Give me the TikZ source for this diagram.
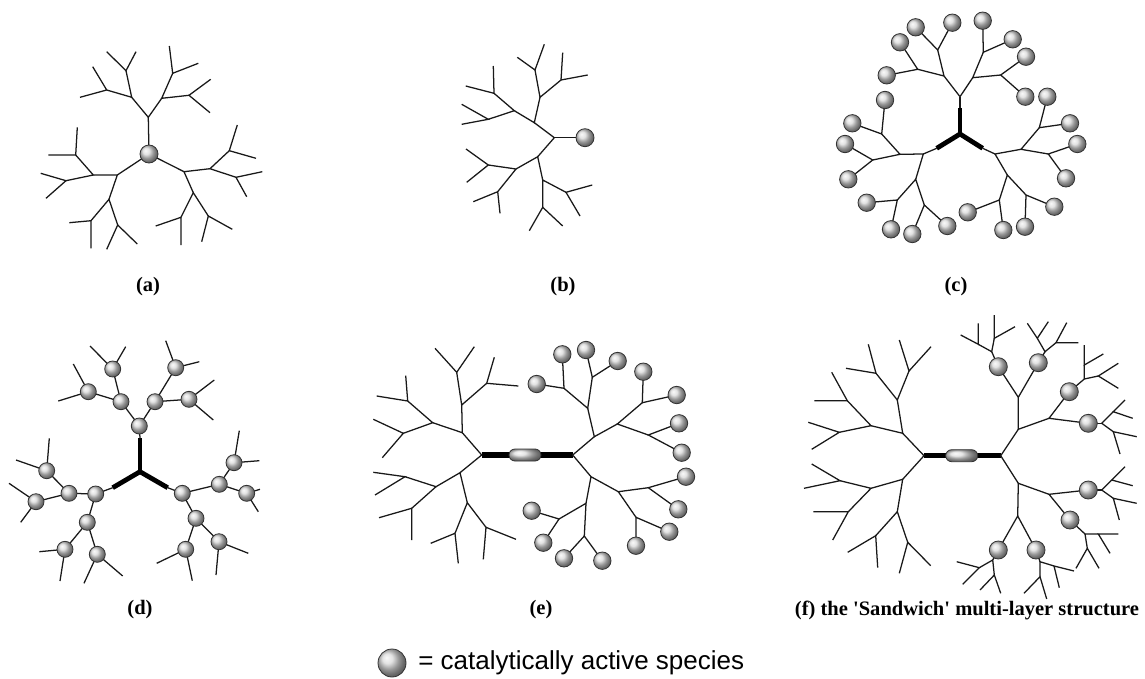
\documentclass[tikz,border=0pt]{standalone}
\usepackage{fontspec}
\setmainfont{Liberation Serif}
\newfontfamily\legendfont{Liberation Sans}
\tikzset{
  bond/.style={line width=0.95pt, black!90},
  arm/.style={line width=3.6pt, black, line cap=butt},
  bar/.style={line width=3.8pt, black, line cap=butt},
  sphere/.style={shading=ball, ball color=gray!30, draw=black!80, line width=0.6pt},
  capsule/.style={shading=ball, ball color=gray!28, draw=black!80, line width=0.6pt},
  lab/.style={font=\fontsize{15.4}{18}\selectfont\bfseries, inner sep=0pt},
}
% fork: branch point #1 with two arms ending at #2 and #3
\newcommand\fk[3]{\draw[bond] (#2) -- (#1) -- (#3);}
\newcommand\seg[2]{\draw[bond] (#1) -- (#2);}
\newcommand\sph[2]{\shadedraw[sphere] (#1) circle[radius=#2*0.75pt];}
\begin{document}
\begin{tikzpicture}[x=0.75pt,y=-0.75pt]
\fill[white] (0,0) rectangle (1145,678);
\useasboundingbox (0,0) rectangle (1145,678);

% ---------- (a) sphere core with three dendrons ----------
\seg{149,154}{148.3,117.3}
\fk{148.3,117.3}{131.7,97.3}{161.7,98.3}
\fk{131.7,97.3}{126,70.7}{106.7,90}
\fk{126,70.7}{106.7,51.7}{136,51.7}
\fk{106.7,90}{92.7,66.7}{80,97.3}
\fk{161.7,98.3}{172.7,73.3}{189,95.3}
\fk{172.7,73.3}{169.3,46}{198.3,63.3}
\fk{189,95.3}{210.7,79.3}{210,112.7}
\seg{149,154}{117.3,175}
\fk{117.3,175}{93.3,175}{109,199.3}
\fk{93.3,175}{75.7,155}{66,180.7}
\fk{75.7,155}{77.3,127.3}{48.3,155}
\fk{66,180.7}{40.7,173.3}{46,198.3}
\fk{109,199.3}{91,220.7}{117.7,225}
\fk{91,220.7}{69.3,222.7}{91,248.3}
\fk{117.7,225}{106.7,249.3}{137.3,244}
\seg{149,154}{184,171.7}
\fk{184,171.7}{210,168.7}{193.3,192.7}
\fk{210,168.7}{229.3,150.7}{236,177.3}
\fk{229.3,150.7}{237.3,125}{256,158.3}
\fk{236,177.3}{262.3,171.7}{246.7,196.7}
\fk{193.3,192.7}{181,217.3}{208.3,216}
\fk{181,217.3}{155.7,226}{181,245}
\fk{208.3,216}{201.7,241.7}{232.3,229.3}
\sph{149,154}{9}

% ---------- (b) single dendron with focal sphere ----------
\seg{554.3,137.7}{585,137.7}
\fk{554.3,137.7}{534.3,122.7}{537.7,156.7}
\fk{534.3,122.7}{514.3,110.7}{540,97.3}
\fk{514.3,110.7}{494,93.3}{488.3,119.3}
\fk{494,93.3}{493.3,66}{465.7,86}
\fk{488.3,119.3}{461.7,104.3}{461.7,124.3}
\fk{540,97.3}{535,70}{561,80}
\fk{535,70}{517.3,57.3}{544.3,44.3}
\fk{561,80}{562.7,52.7}{587.7,75}
\fk{537.7,156.7}{516,169}{542.7,180}
\fk{516,169}{488.3,165}{497.7,191.7}
\fk{488.3,165}{466,149}{466.7,182.3}
\fk{497.7,191.7}{473.3,201.7}{500,213.3}
\fk{542.7,180}{566,192.3}{542.7,207.3}
\fk{566,192.3}{592.3,185}{580,216}
\fk{542.7,207.3}{529.3,230.7}{562.7,226}
\sph{585,137.7}{9}

% ---------- (c) spheres on the periphery ----------
\draw[arm] (960,108.3) -- (960,134);
\draw[arm] (936.7,148.3) -- (960,134) -- (982.7,148.3);
\seg{960,108.3}{960,96.7}
\seg{936.7,148.3}{923.3,154}
\seg{982.7,148.3}{995,154}
\fk{960,96.7}{944,76}{972.7,77.7}
\fk{944,76}{937.7,50}{917.7,69.3}
\fk{937.7,50}{915.7,27.3}{952.3,22.7}
\fk{917.7,69.3}{900,42.3}{886.7,75.3}
\fk{972.7,77.7}{983.3,52.3}{1000.7,75}
\fk{983.3,52.3}{982.7,20.7}{1012.7,39.3}
\fk{1000.7,75}{1026,56.7}{1025.3,96.7}
\fk{923.3,154}{900,154.3}{915.7,179.3}
\fk{900,154.3}{881.7,134}{872.7,160}
\fk{881.7,134}{885,100}{852.3,123.3}
\fk{872.7,160}{845,144}{848.3,179.3}
\fk{915.7,179.3}{897.3,200}{924.3,205}
\fk{897.3,200}{866.7,202.7}{891,229.3}
\fk{924.3,205}{912.3,234}{947.3,226}
\fk{995,154}{1021,149.3}{1007.3,175}
\fk{1021,149.3}{1039.3,127.7}{1048.3,154}
\fk{1039.3,127.7}{1047.3,96.7}{1070,123.3}
\fk{1048.3,154}{1077.3,144}{1066,178.3}
\fk{1007.3,175}{999.3,200}{1026,195}
\fk{999.3,200}{967.7,212.3}{1003.3,230}
\fk{1026,195}{1025,226.7}{1054.3,206.7}
\foreach \p in {{915.7,27.3},{952.3,22.7},{900,42.3},{886.7,75.3},{982.7,20.7},{1012.7,39.3},{1026,56.7},{1025.3,96.7},
  {885,100},{852.3,123.3},{845,144},{848.3,179.3},{866.7,202.7},{891,229.3},{912.3,234},{947.3,226},
  {1047.3,96.7},{1070,123.3},{1077.3,144},{1066,178.3},{967.7,212.3},{1003.3,230},{1025,226.7},{1054.3,206.7}}
  {\sph{\p}{8.7}}

% ---------- (d) spheres in the interior ----------
\draw[arm] (140,438.3) -- (140,471.7);
\draw[arm] (112.7,487.7) -- (140,471.7) -- (167.7,487.7);
\seg{140,438.3}{139.3,426}
\fk{139.3,426}{121,401.7}{155,401.7}
\fk{121,401.7}{112.7,369}{88.3,391.7}
\fk{112.7,369}{90,346}{125.7,346.7}
\fk{88.3,391.7}{73.3,364}{58.3,401}
\fk{155,401.7}{175.7,367.7}{189,399.3}
\fk{175.7,367.7}{165.7,340.7}{199.3,361.7}
\fk{189,399.3}{214.3,380}{213.3,420}
\seg{112.7,487.7}{95.7,494}
\fk{95.7,494}{69,493.3}{87.3,522.3}
\fk{69,493.3}{46.7,470.7}{36,501.7}
\fk{46.7,470.7}{49.3,438.3}{16,460}
\fk{36,501.7}{9,483.3}{20.7,522.3}
\fk{87.3,522.3}{65,549.3}{97.3,554.3}
\fk{65,549.3}{39.3,551.7}{60,581}
\fk{97.3,554.3}{84,583.3}{122.7,576}
\seg{167.7,487.7}{182.3,493.3}
\fk{182.3,493.3}{219.3,484.3}{196,518.3}
\fk{219.3,484.3}{234,462.7}{246.7,493.3}
\fk{234,462.7}{239.3,430.7}{259.3,460.7}
\fk{246.7,493.3}{260,489.3}{258.3,511.7}
\fk{196,518.3}{185.7,549.3}{219,541.7}
\fk{185.7,549.3}{156.7,563.3}{192.3,580.7}
\fk{219,541.7}{216,575}{248.3,553.3}
\foreach \p in {{139.3,426},{121,401.7},{155,401.7},{112.7,369},{88.3,391.7},{175.7,367.7},{189,399.3},
  {95.7,494},{69,493.3},{87.3,522.3},{46.7,470.7},{36,501.7},{65,549.3},{97.3,554.3},
  {182.3,493.3},{219.3,484.3},{196,518.3},{234,462.7},{246.7,493.3},{185.7,549.3},{219,541.7}}
  {\sph{\p}{8}}

% ---------- (e) two dendrons on a capsule core ----------
\draw[bar] (481.7,455) -- (572.7,455);
\shadedraw[capsule, rounded corners=4.5pt] (509,449) rectangle (541,461);
\fk{481.7,455}{462.3,432.7}{460,472.7}
\fk{462.3,432.7}{432.7,422.7}{461.7,405}
\fk{432.7,422.7}{407.7,401}{403.3,433.3}
\fk{407.7,401}{405.7,375.7}{376.7,396}
\fk{403.3,433.3}{373.3,419.3}{382.3,457.7}
\fk{461.7,405}{456.7,372.3}{486.7,383.3}
\fk{456.7,372.3}{435,348.3}{474.3,346.7}
\fk{486.7,383.3}{494.3,357.3}{518.3,386}
\fk{460,472.7}{436,486.7}{467.3,502.7}
\fk{436,486.7}{405,476.7}{411.7,508.3}
\fk{405,476.7}{373.3,472.3}{375,495}
\fk{411.7,508.3}{379,517.7}{411.7,540}
\fk{467.3,502.7}{455,533.3}{486,527.3}
\fk{455,533.3}{430.7,543.3}{458.3,563.3}
\fk{486,527.3}{483.3,559.3}{516,539.3}
\fk{572.7,455}{594.3,436.7}{591,476.7}
\fk{594.3,436.7}{587.7,408.3}{617.3,424}
\fk{587.7,408.3}{564,388.3}{592.3,377.3}
\fk{564,388.3}{536.7,384}{562.3,354.3}
\fk{592.3,377.3}{586,350}{617.7,361}
\fk{617.3,424}{642.3,402.7}{648.3,435}
\fk{642.3,402.7}{643.3,371.7}{676.7,395}
\fk{648.3,435}{679,423.3}{681.7,452.7}
\fk{591,476.7}{618.3,491.7}{586,503.3}
\fk{618.3,491.7}{648.3,487.7}{636,517.3}
\fk{648.3,487.7}{686,476.7}{678.3,509.3}
\fk{636,517.3}{669.3,531.7}{636,545.7}
\fk{586,503.3}{559,519}{584.3,536}
\fk{559,519}{531.7,510.7}{543.3,542.7}
\fk{584.3,536}{564,558.3}{602.3,560.7}
\foreach \p in {{536.7,384},{562.3,354.3},{586,350},{617.7,361},{643.3,371.7},{676.7,395},{679,423.3},{681.7,452.7},
  {686,476.7},{678.3,509.3},{669.3,531.7},{636,545.7},{531.7,510.7},{543.3,542.7},{564,558.3},{602.3,560.7}}
  {\sph{\p}{8.7}}

% ---------- (f) sandwich: spheres between two dendritic layers ----------
\draw[bar] (924,455.7) -- (1000.7,455.7);
\shadedraw[capsule, rounded corners=4.5pt] (945.7,449.7) rectangle (977.7,461.7);
\fk{924,455.7}{902.7,433.3}{902.7,479.3}
\fk{902.7,433.3}{871,425.7}{897.3,400}
\fk{871,425.7}{847.3,400.7}{839.3,432.3}
\fk{847.3,400.7}{831.7,372.3}{814.3,400.7}
\fk{839.3,432.3}{808.3,422.3}{811.7,449.3}
\fk{897.3,400}{876,373.3}{909,371}
\fk{876,373.3}{868.3,344.3}{846,368.3}
\fk{909,371}{899.3,340}{931,346.7}
\fk{902.7,479.3}{871,488.3}{897.3,511.7}
\fk{871,488.3}{840,480.7}{848.3,511.7}
\fk{840,480.7}{811.7,464}{804,488.3}
\fk{848.3,511.7}{813.3,511.7}{832.7,540}
\fk{897.3,511.7}{875.7,535.7}{907.7,542.3}
\fk{875.7,535.7}{847.7,552.3}{877.7,567.7}
\fk{907.7,542.3}{899.3,573.3}{930.7,565.7}
\fk{1000.7,455.7}{1018.3,429.3}{1018.3,483.3}
\fk{1018.3,429.3}{1018.3,397.3}{1049,418.3}
\fk{1018.3,397.3}{998.3,366.7}{1038.3,362.7}
\seg{998.3,366.7}{991.7,351.7}
\fk{991.7,351.7}{978.3,344.3}{994.3,338.3}
\fk{978.3,344.3}{960.7,335}{978.3,323.3}
\fk{994.3,338.3}{994.3,315}{1015,326.7}
\seg{1038.3,362.7}{1045,351.7}
\fk{1045,351.7}{1037.3,338.3}{1056,342.7}
\fk{1037.3,338.3}{1027.3,323.3}{1048.3,321.7}
\fk{1056,342.7}{1066.7,322.7}{1078.3,342.7}
\fk{1049,418.3}{1069.3,391.7}{1088.3,423.3}
\seg{1069.3,391.7}{1084.3,379}
\fk{1084.3,379}{1084.3,365}{1098.3,376}
\fk{1084.3,365}{1084.3,345}{1103.3,354}
\fk{1098.3,376}{1118.3,363.3}{1118.3,388.3}
\seg{1088.3,423.3}{1101.7,423.3}
\fk{1101.7,423.3}{1113.3,411.7}{1113.3,431.7}
\fk{1113.3,411.7}{1125,400}{1132.7,418.3}
\fk{1113.3,431.7}{1136.7,436.7}{1120,454}
\fk{1018.3,483.3}{1049,494.3}{1017.7,516}
\fk{1049,494.3}{1088.3,490}{1070,520}
\seg{1088.3,490}{1101.7,490}
\fk{1101.7,490}{1111.7,480}{1113.3,498.3}
\fk{1111.7,480}{1125,466.7}{1132.7,485.7}
\fk{1113.3,498.3}{1136.7,503.3}{1119.3,520}
\seg{1070,520}{1085,534}
\fk{1085,534}{1098.3,534}{1087.3,548.3}
\fk{1098.3,534}{1118.3,534}{1110,553.3}
\fk{1087.3,548.3}{1076,568.3}{1099,568.3}
\fk{1017.7,516}{998.3,550}{1036,550}
\seg{998.3,550}{992.7,560}
\fk{992.7,560}{979.3,567.7}{994.3,575}
\fk{979.3,567.7}{956.7,561.7}{962.7,584.3}
\fk{994.3,575}{980,590}{1000.7,593.3}
\seg{1036,550}{1040,561.7}
\fk{1040,561.7}{1054,566}{1040,576.7}
\fk{1054,566}{1074,571}{1059.3,587.7}
\fk{1040,576.7}{1024,593.3}{1046.7,599}
\foreach \p in {{998.3,366.7},{1038.3,362.7},{1069.3,391.7},{1088.3,423.3},
  {1088.3,490},{1070,520},{998.3,550},{1036,550}}
  {\sph{\p}{9}}

% ---------- captions ----------
\node[lab] (la) at (148,287) {(a)};
\node[lab] (lb) at (563,287) {(b)};
\node[lab] (lc) at (956,287) {(c)};
\node[lab] (ld) at (140,610) {(d)};
\node[lab] (le) at (541,610) {(e)};
\node[lab] (lf) at (967,610) {(f) the \textquotesingle Sandwich\textquotesingle{} multi-layer structure};

% ---------- legend ----------
\shadedraw[sphere] (392,663) circle[radius=10.5pt];
\node[anchor=west, inner sep=0pt, font=\legendfont\fontsize{19.5}{22}\selectfont] (leg) at (418,663) {= catalytically active species};
\end{tikzpicture}
\end{document}
